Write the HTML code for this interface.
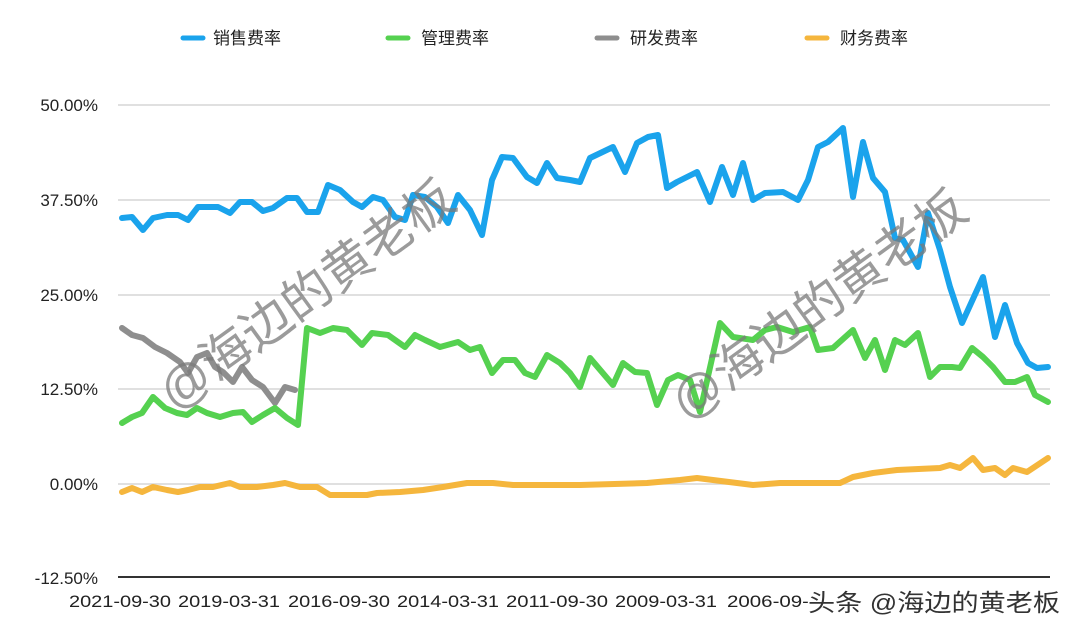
<!DOCTYPE html>
<html><head><meta charset="utf-8"><style>
html,body{margin:0;padding:0;background:#fff;}
svg{display:block;}
text{font-family:"Liberation Sans","Noto Sans CJK SC",sans-serif;}
</style></head><body>
<svg width="1080" height="631" viewBox="0 0 1080 631" xmlns="http://www.w3.org/2000/svg">
<rect width="1080" height="631" fill="#fff"/>
<g font-size="17" fill="#222">
<line x1="183" y1="38" x2="203" y2="38" stroke="#1aa3ec" stroke-width="5" stroke-linecap="round"/>
<text x="213" y="44">销售费率</text>
<line x1="388" y1="38" x2="408" y2="38" stroke="#55d150" stroke-width="5" stroke-linecap="round"/>
<text x="421" y="44">管理费率</text>
<line x1="597" y1="38" x2="617" y2="38" stroke="#8e8e8e" stroke-width="5" stroke-linecap="round"/>
<text x="630" y="44">研发费率</text>
<line x1="807" y1="38" x2="827" y2="38" stroke="#f5b63d" stroke-width="5" stroke-linecap="round"/>
<text x="840" y="44">财务费率</text>
</g>
<g stroke="#d6d6d6" stroke-width="1.5">
<line x1="118" y1="105" x2="1050" y2="105"/>
<line x1="118" y1="200" x2="1050" y2="200"/>
<line x1="118" y1="295" x2="1050" y2="295"/>
<line x1="118" y1="389" x2="1050" y2="389"/>
<line x1="118" y1="484" x2="1050" y2="484"/>
</g>
<line x1="118" y1="577" x2="1050" y2="577" stroke="#333" stroke-width="2"/>
<g font-size="17" fill="#222" text-anchor="end">
<text x="98" y="111">50.00%</text>
<text x="98" y="206">37.50%</text>
<text x="98" y="301">25.00%</text>
<text x="98" y="395">12.50%</text>
<text x="98" y="490">0.00%</text>
<text x="98" y="584">-12.50%</text>
</g>
<g font-size="17" fill="#222" text-anchor="middle">
<text x="120" y="607" textLength="102" lengthAdjust="spacingAndGlyphs">2021-09-30</text>
<text x="229" y="607" textLength="102" lengthAdjust="spacingAndGlyphs">2019-03-31</text>
<text x="339" y="607" textLength="102" lengthAdjust="spacingAndGlyphs">2016-09-30</text>
<text x="448" y="607" textLength="102" lengthAdjust="spacingAndGlyphs">2014-03-31</text>
<text x="557" y="607" textLength="102" lengthAdjust="spacingAndGlyphs">2011-09-30</text>
<text x="666" y="607" textLength="102" lengthAdjust="spacingAndGlyphs">2009-03-31</text>
<text x="727" y="607" text-anchor="start" textLength="82" lengthAdjust="spacingAndGlyphs">2006-09-</text>
</g>
<g fill="none" stroke-width="6" stroke-linejoin="round" stroke-linecap="round">
<polyline stroke="#f5b63d" points="122,492 132,488 142,492 153,487 167,490 178,492 188,490 200,487 213,487 230,483 240,487 257,487 273,485 285,483 300,487 317,487 330,495 350,495 367,495 377,493 400,492 423,490 443,487 467,483 493,483 513,485 580,485 647,483 680,480 697,478 713,480 753,485 780,483 840,483 853,477 873,473 897,470 940,468 950,465 960,468 973,458 983,470 995,468 1005,475 1013,468 1027,472 1048,458"/>
<polyline stroke="#8e8e8e" points="122,328 132,335 143,338 155,347 167,353 180,362 188,373 197,357 207,353 215,367 223,372 233,382 242,367 252,380 263,387 275,403 285,387 295,390"/>
<polyline stroke="#55d150" points="122,423 132,417 142,413 153,397 165,408 177,413 187,415 197,408 207,413 220,417 233,413 243,412 252,422 263,415 275,408 287,418 298,425 307,328 320,333 333,328 347,330 362,345 372,333 388,335 405,347 415,335 425,340 440,347 458,342 470,350 480,347 492,373 503,360 515,360 525,373 535,377 547,355 560,363 570,373 580,387 590,358 613,385 623,363 635,372 647,373 657,405 668,380 678,375 690,380 700,412 720,323 733,337 753,340 765,330 777,327 793,332 810,327 818,350 833,348 853,330 865,358 875,340 885,370 895,340 905,345 918,333 930,377 940,367 952,367 960,368 972,348 983,357 993,367 1005,382 1015,382 1027,377 1035,395 1048,402"/>
<polyline stroke="#1aa3ec" points="122,218 132,217 143,230 153,218 167,215 178,215 188,220 198,207 210,207 218,207 230,213 240,202 252,202 263,211 273,208 287,198 297,198 307,212 318,212 328,185 340,190 353,202 362,207 373,197 383,200 395,217 405,220 413,195 425,197 437,207 448,223 458,195 470,210 482,235 492,180 502,157 513,158 527,177 537,183 547,163 557,178 570,180 580,182 590,158 613,147 625,172 637,143 648,137 658,135 667,188 677,182 697,172 710,202 722,167 733,195 743,163 753,200 765,193 783,192 798,200 808,180 818,147 828,142 843,128 853,197 863,142 873,178 885,192 895,238 903,240 918,267 928,213 940,250 950,287 962,323 983,277 995,337 1005,305 1017,343 1028,363 1037,368 1048,367"/>
</g>
<g font-size="50" fill="#7a7a7a" fill-opacity="0.75">
<text x="0" y="0" transform="translate(175,412) rotate(-36)">@海边的黄老板</text>
<text x="0" y="0" transform="translate(687,422) rotate(-36)">@海边的黄老板</text>
</g>
<text x="808" y="611" font-size="24" fill="#333" stroke="#fff" stroke-width="3" paint-order="stroke" textLength="252" lengthAdjust="spacingAndGlyphs">头条 @海边的黄老板</text>
</svg>
</body></html>
